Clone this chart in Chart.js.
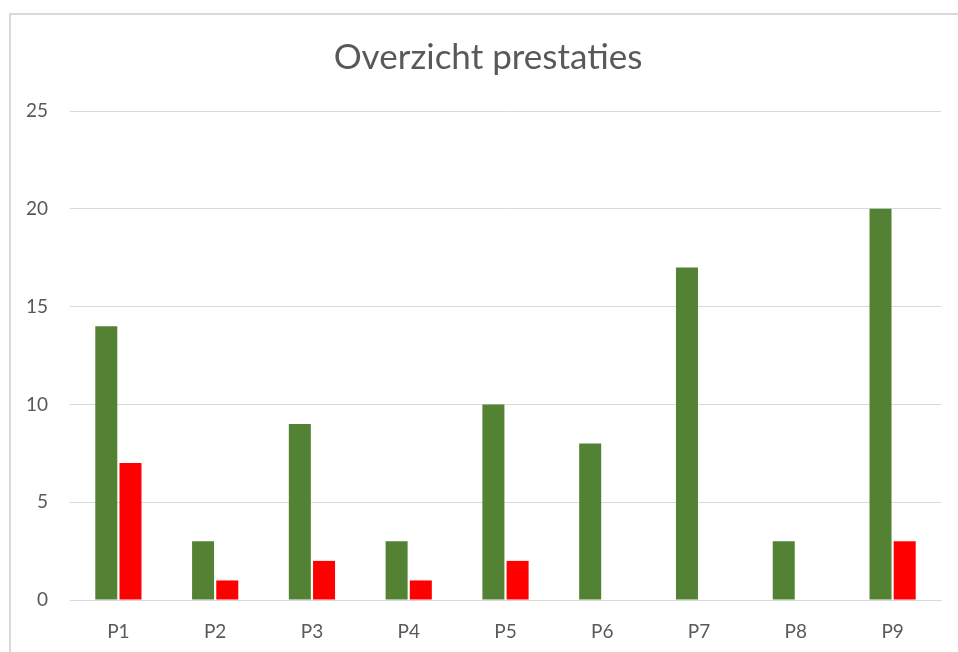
<!DOCTYPE html>
<html>
<head>
<meta charset="utf-8">
<script src="https://cdn.jsdelivr.net/npm/chart.js@4/dist/chart.umd.min.js"></script>
<style>
  html, body { margin: 0; padding: 0; background: #fff; overflow: hidden; }
  canvas { display: block; }
</style>
</head>
<body>
<canvas id="chart" width="958" height="652"></canvas>
<script>
'use strict';

// ── Data ──
const categories = ['P1', 'P2', 'P3', 'P4', 'P5', 'P6', 'P7', 'P8', 'P9'];
const greenValues = [14, 3, 9, 3, 10, 8, 17, 3, 20];
const redValues = [7, 1, 2, 1, 2, 0, 0, 0, 3];
const yTicks = [0, 5, 10, 15, 20, 25];

const TEXT = '#595959';
const GRID = '#d9d9d9';
const FONT = "Lato, 'Open Sans', sans-serif";

// Excel centres the title over the whole chart frame, not the canvas box
const titleShift = {
  id: 'titleShift',
  afterLayout(chart) {
    if (!chart.titleBlock) return;
    chart.titleBlock.left = 9;
    chart.titleBlock.right = 967;
  },
};

// Chart frame: only the left and top edges are inside the picture
const frame = {
  id: 'frame',
  beforeDraw(chart) {
    const { ctx, width, height } = chart;
    ctx.save();
    ctx.fillStyle = '#fff';
    ctx.fillRect(0, 0, width, height);
    ctx.strokeStyle = GRID;
    ctx.lineWidth = 2;
    ctx.beginPath();
    ctx.moveTo(10, height);
    ctx.lineTo(10, 14);
    ctx.lineTo(width, 14);
    ctx.stroke();
    ctx.restore();
  },
};

new Chart(document.getElementById('chart').getContext('2d'), {
  type: 'bar',
  plugins: [frame, titleShift],
  data: {
    labels: categories,
    datasets: [
      {
        label: 'Groen',
        data: greenValues,
        backgroundColor: '#548235',
        borderWidth: 0,
        categoryPercentage: 0.5,
        barPercentage: 0.91,
      },
      {
        label: 'Rood',
        data: redValues,
        backgroundColor: '#ff0000',
        borderWidth: 0,
        categoryPercentage: 0.5,
        barPercentage: 0.91,
      },
    ],
  },
  options: {
    responsive: false,
    animation: false,
    layout: { padding: { left: 0, right: 17, top: 0, bottom: 12 } },
    plugins: {
      legend: { display: false },
      tooltip: { enabled: false },
      title: {
        display: true,
        text: 'Overzicht prestaties',
        color: TEXT,
        font: { family: FONT, size: 35, weight: 'normal' },
        padding: { top: 37, bottom: 32 },
      },
    },
    scales: {
      x: {
        afterFit(axis) { axis.height = 40; },
        grid: { display: false, drawTicks: false },
        border: { display: true, color: GRID, width: 1 },
        ticks: { color: TEXT, font: { family: FONT, size: 19 }, padding: 20 },
      },
      y: {
        min: 0,
        max: 25,
        afterBuildTicks(axis) { axis.ticks = yTicks.map(v => ({ value: v })); },
        afterFit(axis) { axis.width = 70; },
        grid: { color: GRID, lineWidth: 1, drawTicks: false },
        border: { display: false },
        ticks: { color: TEXT, font: { family: FONT, size: 19 }, padding: 22 },
      },
    },
  },
});
</script>
</body>
</html>
